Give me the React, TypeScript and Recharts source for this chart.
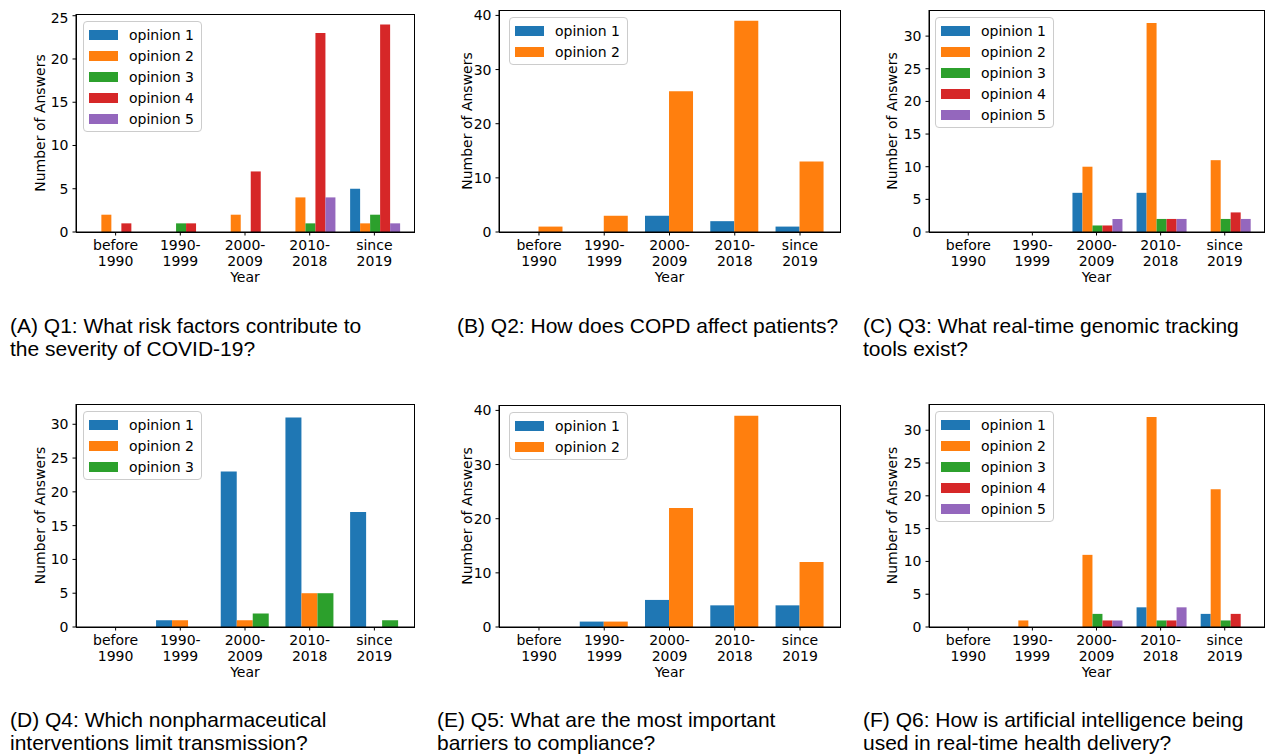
import React from 'react';
import { BarChart, Bar, XAxis, YAxis, Legend, Label } from 'recharts';

// ---------- data ----------
const categories = ['before 1990', '1990-1999', '2000-2009', '2010-2018', 'since 2019'];
const tickTop = ['before', '1990-', '2000-', '2010-', 'since'];
const tickBottom = ['1990', '1999', '2009', '2018', '2019'];
const seriesNames = ['opinion 1', 'opinion 2', 'opinion 3', 'opinion 4', 'opinion 5'];
const seriesColors = ['#1f77b4', '#ff7f0e', '#2ca02c', '#d62728', '#9467bd'];

const q1Opinion1 = [0, 0, 0, 0, 5];
const q1Opinion2 = [2, 0, 2, 4, 1];
const q1Opinion3 = [0, 1, 0, 1, 2];
const q1Opinion4 = [1, 1, 7, 23, 24];
const q1Opinion5 = [0, 0, 0, 4, 1];

const q2Opinion1 = [0, 0, 3, 2, 1];
const q2Opinion2 = [1, 3, 26, 39, 13];

const q3Opinion1 = [0, 0, 6, 6, 0];
const q3Opinion2 = [0, 0, 10, 32, 11];
const q3Opinion3 = [0, 0, 1, 2, 2];
const q3Opinion4 = [0, 0, 1, 2, 3];
const q3Opinion5 = [0, 0, 2, 2, 2];

const q4Opinion1 = [0, 1, 23, 31, 17];
const q4Opinion2 = [0, 1, 1, 5, 0];
const q4Opinion3 = [0, 0, 2, 5, 1];

const q5Opinion1 = [0, 1, 5, 4, 4];
const q5Opinion2 = [0, 1, 22, 39, 12];

const q6Opinion1 = [0, 0, 0, 3, 2];
const q6Opinion2 = [0, 1, 11, 32, 21];
const q6Opinion3 = [0, 0, 2, 1, 1];
const q6Opinion4 = [0, 0, 1, 1, 2];
const q6Opinion5 = [0, 0, 1, 3, 0];

const yTicks25 = [0, 5, 10, 15, 20, 25];
const yTicks30 = [0, 5, 10, 15, 20, 25, 30];
const yTicks40 = [0, 10, 20, 30, 40];

const captionA = ['(A) Q1: What risk factors contribute to', 'the severity of COVID-19?'];
const captionB = ['(B) Q2: How does COPD affect patients?'];
const captionC = ['(C) Q3: What real-time genomic tracking', 'tools exist?'];
const captionD = ['(D) Q4: Which nonpharmaceutical', 'interventions limit transmission?'];
const captionE = ['(E) Q5: What are the most important', 'barriers to compliance?'];
const captionF = ['(F) Q6: How is artificial intelligence being', 'used in real-time health delivery?'];

// ---------- styling ----------
const FONT = '"DejaVu Sans", sans-serif';
const FS = 14;
const AXIS = '#000';

function XTick(props: any) {
  const { x, y, payload } = props;
  const i = categories.indexOf(payload.value);
  return (
    <g transform={`translate(${x},${y})`}>
      <text textAnchor="middle" fontFamily={FONT} fontSize={FS} fill="#000">
        <tspan x={0} dy={14.5}>{tickTop[i]}</tspan>
        <tspan x={0} dy={15.5}>{tickBottom[i]}</tspan>
      </text>
    </g>
  );
}

function LegendBox(props: any) {
  const payload = props.payload || [];
  return (
    <div
      style={{
        boxSizing: 'border-box',
        border: '1px solid #cccccc',
        borderRadius: 4,
        background: 'rgba(255,255,255,0.8)',
        padding: '2px 7px 2px 5px',
        fontFamily: FONT,
        fontSize: FS,
        color: '#000',
        whiteSpace: 'nowrap',
      }}
    >
      {payload.map((p: any) => (
        <div key={p.value} style={{ display: 'flex', alignItems: 'center', height: 21 }}>
          <span style={{ display: 'inline-block', width: 29, height: 10, background: p.color, marginRight: 11 }} />
          <span>{p.value}</span>
        </div>
      ))}
    </div>
  );
}

type Frame = { l: number; t: number; r: number; b: number };

function Panel({ frame, series, yTicks, legendDx, legendDy, yLabelDx }: {
  frame: Frame; series: number[][]; yTicks: number[]; legendDx: number; legendDy: number; yLabelDx: number;
}) {
  const ML = 70, MT = 4, MR = 4, MB = 60;
  const fw = frame.r - frame.l;
  const fh = frame.b - frame.t;
  const W = fw + ML + MR;
  const H = fh + MT + MB;
  const n = categories.length;
  const span = n - 1 + 0.75;
  const unit = fw / (span * 1.1);
  const pad = (0.05 * span - 0.125) * unit;
  const yMax = Math.max(...series.flat()) * 1.05;
  const data = categories.map((c, i) => {
    const row: any = { cat: c };
    series.forEach((s, j) => { row['s' + j] = s[i]; });
    return row;
  });
  return (
    <div style={{ position: 'absolute', left: frame.l - ML, top: frame.t - MT, width: W, height: H }}>
      <BarChart width={W} height={H} data={data} margin={{ top: MT, right: MR, bottom: 0, left: 0 }} barCategoryGap="12.5%" barGap={0}>
        <XAxis
          dataKey="cat"
          height={MB}
          padding={{ left: pad, right: pad }}
          interval={0}
          tickSize={3.5}
          tickMargin={0}
          tick={<XTick />}
          axisLine={{ stroke: AXIS, strokeWidth: 1 }}
          tickLine={{ stroke: AXIS, strokeWidth: 1 }}
        >
          <Label
            content={(p: any) => {
              const vb = p.viewBox || {};
              return (
                <text x={vb.x + vb.width / 2} y={vb.y + 50} textAnchor="middle" fontFamily={FONT} fontSize={FS} fill="#000">Year</text>
              );
            }}
          />
        </XAxis>
        <YAxis
          width={ML}
          domain={[0, yMax]}
          ticks={yTicks}
          tickSize={3.5}
          tickMargin={4}
          tick={{ fontFamily: FONT, fontSize: FS, fill: '#000' }}
          axisLine={{ stroke: AXIS, strokeWidth: 1 }}
          tickLine={{ stroke: AXIS, strokeWidth: 1 }}
          allowDecimals={false}
        >
          <Label
            content={(p: any) => {
              const vb = p.viewBox || {};
              const cx = vb.x + vb.width + yLabelDx;
              const cy = vb.y + vb.height / 2;
              return (
                <text x={cx} y={cy} transform={`rotate(-90, ${cx}, ${cy})`} textAnchor="middle" dy="0.36em" fontFamily={FONT} fontSize={FS} fill="#000">Number of Answers</text>
              );
            }}
          />
        </YAxis>
        <Legend
          layout="vertical"
          align="center"
          verticalAlign="middle"
          wrapperStyle={{ left: ML + legendDx, top: MT + legendDy, width: 'auto', height: 'auto' }}
          content={<LegendBox />}
        />
        {series.map((s, j) => (
          <Bar key={j} dataKey={'s' + j} name={seriesNames[j]} fill={seriesColors[j]} isAnimationActive={false} />
        ))}
      </BarChart>
      <div
        style={{
          position: 'absolute',
          left: ML - 0.5,
          top: MT - 0.5,
          width: fw + 1,
          height: fh + 1,
          boxSizing: 'border-box',
          border: '1px solid #000',
          pointerEvents: 'none',
        }}
      />
    </div>
  );
}

function Caption({ lines, left, top }: { lines: string[]; left: number; top: number }) {
  return (
    <div
      style={{
        position: 'absolute',
        left,
        top,
        fontFamily: '"Liberation Sans", Arial, sans-serif',
        fontSize: 21,
        lineHeight: '23px',
        color: '#000',
        whiteSpace: 'nowrap',
      }}
    >
      {lines.map((l, i) => (
        <div key={i}>{l}</div>
      ))}
    </div>
  );
}

export default function App() {
  return (
    <div style={{ position: 'absolute', left: 0, top: 0, width: 1265, height: 754, overflow: 'hidden', background: '#fff' }}>
      <Panel frame={{ l: 76, t: 14, r: 414, b: 232 }} series={[q1Opinion1, q1Opinion2, q1Opinion3, q1Opinion4, q1Opinion5]} yTicks={yTicks25} legendDx={7} legendDy={7} yLabelDx={-36} />
      <Panel frame={{ l: 499, t: 10, r: 840, b: 232 }} series={[q2Opinion1, q2Opinion2]} yTicks={yTicks40} legendDx={10} legendDy={7} yLabelDx={-32} />
      <Panel frame={{ l: 929, t: 10, r: 1264, b: 232 }} series={[q3Opinion1, q3Opinion2, q3Opinion3, q3Opinion4, q3Opinion5]} yTicks={yTicks30} legendDx={6} legendDy={7} yLabelDx={-37} />
      <Panel frame={{ l: 76, t: 404, r: 414, b: 627 }} series={[q4Opinion1, q4Opinion2, q4Opinion3]} yTicks={yTicks30} legendDx={7} legendDy={7} yLabelDx={-36} />
      <Panel frame={{ l: 499, t: 405, r: 840, b: 627 }} series={[q5Opinion1, q5Opinion2]} yTicks={yTicks40} legendDx={10} legendDy={7} yLabelDx={-32} />
      <Panel frame={{ l: 929, t: 404, r: 1264, b: 627 }} series={[q6Opinion1, q6Opinion2, q6Opinion3, q6Opinion4, q6Opinion5]} yTicks={yTicks30} legendDx={6} legendDy={7} yLabelDx={-37} />

      <Caption lines={captionA} left={10} top={313.5} />
      <Caption lines={captionB} left={457} top={313.5} />
      <Caption lines={captionC} left={863} top={313.5} />
      <Caption lines={captionD} left={10} top={707.5} />
      <Caption lines={captionE} left={437} top={707.5} />
      <Caption lines={captionF} left={863} top={707.5} />
    </div>
  );
}
